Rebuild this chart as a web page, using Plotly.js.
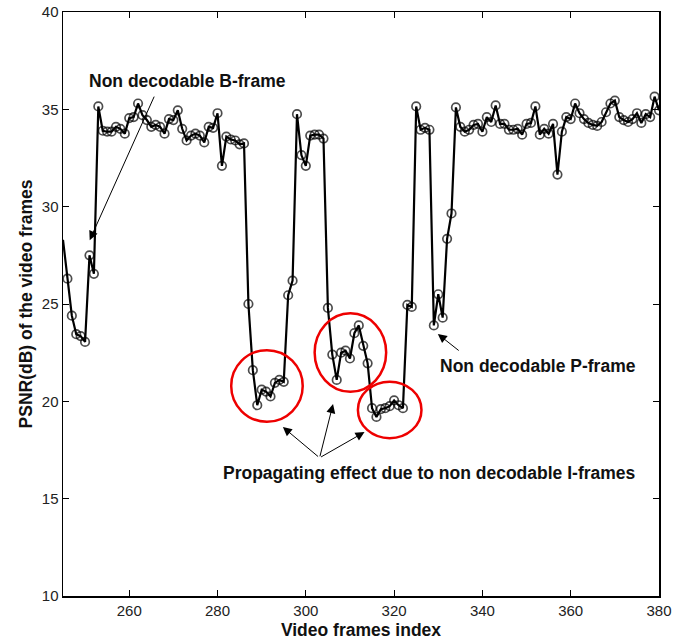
<!DOCTYPE html>
<html>
<head>
<meta charset="utf-8">
<script src="https://cdn.plot.ly/plotly-3.0.1.min.js"></script>
<style>html,body{margin:0;padding:0;background:#fff;}#chart{width:691px;height:643px;}</style>
</head>
<body>
<div id="chart"></div>
<script>
// Video frame indices
const frames = [245,246,247,248,249,250,251,252,253,254,255,256,257,258,259,260,261,262,263,264,265,266,267,268,269,270,
271,272,273,274,275,276,277,278,279,280,281,282,283,284,285,286,287,288,289,290,291,292,293,294,295,296,297,298,299,300,
301,302,303,304,305,306,307,308,309,310,311,312,313,314,315,316,317,318,319,320,321,322,323,324,325,326,327,328,329,330,
331,332,333,334,335,336,337,338,339,340,341,342,343,344,345,346,347,348,349,350,351,352,353,354,355,356,357,358,359,360,
361,362,363,364,365,366,367,368,369,370,371,372,373,374,375,376,377,378,379,380];

// PSNR (dB) per frame
const psnr = [28.3,26.3,24.4,23.45,23.35,23.05,27.5,26.55,35.15,33.9,33.85,33.85,34.1,34.0,33.75,34.55,34.6,35.3,34.7,34.45,
34.1,34.2,34.1,33.75,34.5,34.45,34.95,34.0,33.4,33.65,33.75,33.65,33.3,34.1,34.05,34.8,32.1,33.6,33.45,33.4,33.2,33.25,
25.0,21.6,19.8,20.6,20.5,20.25,20.95,21.1,21.0,25.45,26.2,34.75,32.65,32.1,33.65,33.7,33.7,33.5,24.8,22.4,21.1,22.5,22.6,
22.2,23.5,23.9,22.85,21.95,19.65,19.2,19.6,19.65,19.75,20.05,19.8,19.65,24.95,24.85,35.15,33.95,34.05,33.95,23.9,25.5,24.3,
28.35,29.65,35.1,34.1,33.85,33.95,34.2,34.25,33.85,34.6,34.35,35.2,34.25,34.25,33.95,33.95,34.0,33.7,34.25,34.3,35.15,
33.7,34.0,33.75,34.25,31.65,33.85,34.6,34.5,35.3,34.8,34.5,34.3,34.2,34.15,34.35,34.85,35.3,35.45,34.6,34.45,34.35,34.5,
34.8,34.3,34.75,34.6,35.65,34.95];

const xTicks = [260,280,300,320,340,360,380];
const yTicks = [10,15,20,25,30,35,40];

const labelB = "Non decodable B-frame";
const labelP = "Non decodable P-frame";
const labelI = "Propagating effect due to non decodable I-frames";
const xTitle = "Video frames index";
const yTitle = "PSNR(dB) of the video frames";

const boldFont = {family: "Liberation Sans, Arial, sans-serif", size: 17.5, color: "#111", weight: "bold"};

// the first sample sits on the left frame edge: its marker is not drawn
const markerSizes = frames.map((f, i) => (i === 0 ? 0 : 8.5));

const trace = {
  x: frames, y: psnr, type: "scatter", mode: "lines+markers",
  line: {color: "#000", width: 2.2},
  marker: {symbol: "circle-open", size: markerSizes, color: "#000", line: {width: 1.7, color: "#000"}},
  hoverinfo: "skip", showlegend: false
};

function arrow(hx, hy, tx, ty, head) {
  return {x: hx, y: hy, ax: tx, ay: ty, xref: "x", yref: "y", axref: "x", ayref: "y",
    text: "", showarrow: true, arrowhead: head, arrowsize: 1.8, arrowwidth: 1, arrowcolor: "#000"};
}

const layout = {
  width: 691, height: 643,
  margin: {l: 63, r: 32, t: 12, b: 47},
  paper_bgcolor: "#fff", plot_bgcolor: "#fff",
  font: {family: "Liberation Sans, Arial, sans-serif", size: 15, color: "#222"},
  xaxis: {
    range: [245, 380], tickvals: xTicks, ticks: "inside", ticklen: 6, tickwidth: 1, tickcolor: "#000",
    showline: true, linecolor: "#000", linewidth: 1.5, mirror: "ticks", showgrid: false, zeroline: false,
    tickfont: {size: 15, color: "#222"},
    title: {text: xTitle, font: boldFont, standoff: 6}
  },
  yaxis: {
    range: [10, 40], tickvals: yTicks, ticks: "inside", ticklen: 6, tickwidth: 1, tickcolor: "#000",
    showline: true, linecolor: "#000", linewidth: 1.5, mirror: "ticks", showgrid: false, zeroline: false,
    tickfont: {size: 15, color: "#222"},
    title: {text: yTitle, font: boldFont, standoff: 4}
  },
  shapes: [
    {type: "circle", xref: "x", yref: "y", x0: 283.1, x1: 299.3, y0: 18.95, y1: 22.63, line: {color: "#ee0000", width: 2.5}},
    {type: "circle", xref: "x", yref: "y", x0: 302.0, x1: 318.2, y0: 20.49, y1: 24.52, line: {color: "#ee0000", width: 2.5}},
    {type: "circle", xref: "x", yref: "y", x0: 311.8, x1: 326.2, y0: 18.11, y1: 21.01, line: {color: "#ee0000", width: 2.5}}
  ],
  annotations: [
    {x: 273.1, y: 36.45, xref: "x", yref: "y", text: labelB, showarrow: false, font: boldFont, xanchor: "center", yanchor: "middle"},
    {x: 352.6, y: 21.8, xref: "x", yref: "y", text: labelP, showarrow: false, font: boldFont, xanchor: "center", yanchor: "middle"},
    {x: 328.1, y: 16.3, xref: "x", yref: "y", text: labelI, showarrow: false, font: boldFont, xanchor: "center", yanchor: "middle"},
    arrow(251.05, 28.28, 265.8, 35.73, 2),
    arrow(329.9, 23.46, 334.97, 22.55, 2),
    arrow(294.8, 18.68, 303.12, 17.1, 2),
    arrow(306.17, 19.86, 303.12, 17.1, 2),
    arrow(313.3, 18.42, 303.12, 17.1, 2)
  ]
};

Plotly.newPlot("chart", [trace], layout, {displayModeBar: false, staticPlot: true});
</script>
</body>
</html>
